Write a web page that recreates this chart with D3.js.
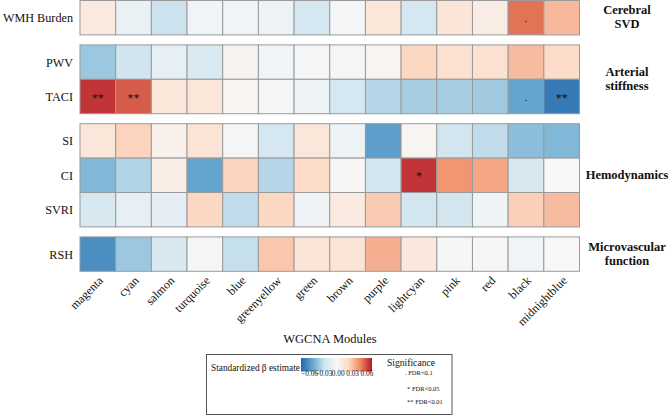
<!DOCTYPE html>
<html>
<head>
<meta charset="utf-8">
<script src="https://cdn.jsdelivr.net/npm/d3@7"></script>
<style>
  html, body { margin: 0; padding: 0; background: #fff; }
  svg { display: block; }
</style>
</head>
<body>
<svg id="chart" width="669" height="416" font-family="'Liberation Serif', 'Times New Roman', Tinos, 'DejaVu Serif', serif"></svg>
<script>
const modules = ["magenta","cyan","salmon","turquoise","blue","greenyellow","green","brown","purple","lightcyan","pink","red","black","midnightblue"];
const traits = ["WMH Burden","PWV","TACI","SI","CI","SVRI","RSH"];
const traitGroup = [0,1,1,2,2,2,3];
const groups = [["Cerebral","SVD"],["Arterial","stiffness"],["Hemodynamics"],["Microvascular","function"]];

const betaWMH  = [0.010,-0.007,-0.021,-0.003,-0.003,-0.006,-0.018,-0.002,0.012,-0.018,0.013,0.008,0.044,0.029];
const betaPWV  = [-0.030,-0.020,-0.009,-0.016,0.003,-0.003,-0.002,-0.002,0.002,0.021,0.016,0.016,0.028,0.019];
const betaTACI = [0.055,0.048,0.012,0.012,0.002,-0.002,-0.005,-0.018,-0.025,-0.028,-0.028,-0.029,-0.041,-0.054];
const betaSI   = [0.012,0.022,0.005,0.014,-0.002,-0.018,0.012,-0.005,-0.043,0.002,-0.019,-0.023,-0.033,-0.035];
const betaCI   = [-0.035,-0.026,0.008,-0.041,0.022,-0.025,0.019,0.001,-0.019,0.055,0.037,0.033,-0.017,0.000];
const betaSVRI = [-0.017,-0.009,-0.010,0.021,-0.023,0.021,-0.004,0.009,0.024,-0.019,-0.019,-0.005,0.023,0.028];
const betaRSH  = [-0.048,-0.030,-0.017,-0.002,-0.022,0.025,0.014,0.014,0.031,0.011,-0.001,0.001,-0.003,0.000];
const betas = [betaWMH,betaPWV,betaTACI,betaSI,betaCI,betaSVRI,betaRSH];

// significance marks [traitIndex, moduleIndex, mark]
const sigMarks = [[0,12,"."],[2,0,"**"],[2,1,"**"],[2,12,"."],[2,13,"**"],[4,9,"*"]];

const legendTicks = [-0.06,-0.03,0.00,0.03,0.06];
const legendSig = [". FDR<0.1","* FDR<0.05","** FDR<0.01"];
const palette = ["#2166AC","#67A9CF","#D1E5F0","#F7F7F7","#FDDBC7","#EF8A62","#B2182B"];

const svg = d3.select("#chart");

const x = d3.scaleBand().domain(modules).range([80, 579.5]).padding(0);
const rowH = 34.4, gap = 10, top0 = 0.5;
const rowY = traits.map((t,i) => top0 + i*rowH + traitGroup[i]*gap);
const y = d3.scaleOrdinal().domain(traits).range(rowY);

const color = d3.scaleLinear()
  .domain(d3.range(7).map(i => -0.06 + i*0.02))
  .range(palette)
  .clamp(true);

const cells = [];
traits.forEach((t,i) => modules.forEach((m,j) => cells.push({t, m, v: betas[i][j]})));

svg.append("g").selectAll("rect").data(cells).join("rect")
  .attr("x", d => x(d.m))
  .attr("y", d => y(d.t))
  .attr("width", x.bandwidth())
  .attr("height", rowH)
  .attr("fill", d => color(d.v))
  .attr("stroke", "#9a9a9a")
  .attr("stroke-width", 1);

// significance
svg.append("g").selectAll("text").data(sigMarks).join("text")
  .attr("x", d => x(modules[d[1]]) + x.bandwidth()/2)
  .attr("y", d => y(traits[d[0]]) + rowH/2 + (d[2]==="." ? 4 : 5))
  .attr("text-anchor", "middle")
  .attr("font-size", d => d[2]==="." ? 11 : 12)
  .attr("fill", "#111")
  .text(d => d[2]);

// row labels
svg.append("g").selectAll("text").data(traits).join("text")
  .attr("x", 73)
  .attr("y", d => y(d) + rowH/2 + 4.5)
  .attr("text-anchor", "end")
  .attr("font-size", 12.2)
  .attr("fill", "#111")
  .text(d => d);

// group labels
groups.forEach((lines, g) => {
  const idx = traits.map((t,i)=>i).filter(i => traitGroup[i]===g);
  const c = (rowY[idx[0]] + rowY[idx[idx.length-1]] + rowH)/2;
  const t = svg.append("text")
    .attr("x", 627)
    .attr("text-anchor", "middle")
    .attr("font-size", 12.5)
    .attr("font-weight", "bold")
    .attr("fill", "#111");
  if (lines.length === 1) {
    t.attr("y", c + 3.5).text(lines[0]);
  } else {
    t.attr("y", c - 3.5);
    lines.forEach((l,k) => t.append("tspan").attr("x", 627).attr("dy", k===0?0:14).text(l));
  }
});

// x axis labels
const xb = 271.3;
svg.append("g").selectAll("text").data(modules).join("text")
  .attr("text-anchor", "end")
  .attr("font-size", 12)
  .attr("fill", "#111")
  .attr("transform", d => `translate(${x(d) + x.bandwidth()/2 + 6},${xb + 10}) rotate(-45)`)
  .text(d => d);

svg.append("text")
  .attr("x", 330).attr("y", 343)
  .attr("text-anchor", "middle")
  .attr("font-size", 12.5)
  .attr("fill", "#111")
  .text("WGCNA Modules");

// legend
const lg = svg.append("g");
lg.append("rect").attr("x", 206.5).attr("y", 354.5).attr("width", 245.5).attr("height", 60)
  .attr("fill", "#fff").attr("stroke", "#555").attr("stroke-width", 1);
lg.append("text").attr("x", 211).attr("y", 370.5).attr("font-size", 9.3).attr("fill", "#111").text("Standardized β estimate");

const defs = svg.append("defs");
const grad = defs.append("linearGradient").attr("id", "lgrad");
palette.forEach((c,i) => grad.append("stop").attr("offset", (i/(palette.length-1)*100)+"%").attr("stop-color", c));
lg.append("rect").attr("x", 301).attr("y", 358).attr("width", 71).attr("height", 13.5).attr("fill", "url(#lgrad)");
const lx = d3.scaleLinear().domain([-0.06, 0.06]).range([309.5, 367]);
lg.selectAll("text.tk").data(legendTicks).join("text").attr("class","tk")
  .attr("x", d => lx(d)).attr("y", 375.5)
  .attr("text-anchor", "middle").attr("font-size", 7.3)
  .attr("fill", "#111")
  .text(d => d3.format(".2f")(d));

lg.append("text").attr("x", 387).attr("y", 366).attr("font-size", 9.6).attr("fill", "#111").text("Significance");
const sy = [375, 390.5, 404];
lg.selectAll("text.sg").data(legendSig).join("text").attr("class","sg")
  .attr("x", (d,i) => i===0 ? 405 : 407).attr("y", (d,i) => sy[i])
  .attr("font-size", 6.5)
  .attr("fill", "#111")
  .text(d => d);
</script>
</body>
</html>
